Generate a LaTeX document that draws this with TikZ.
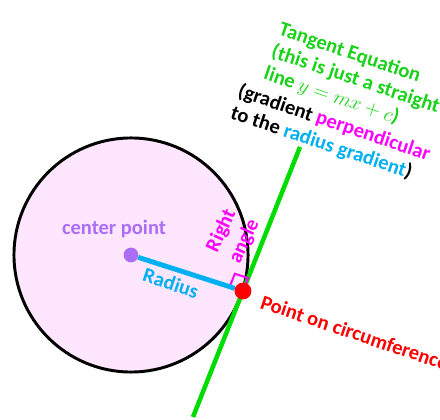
\documentclass[tikz,border=0pt]{standalone}
\usepackage{fontspec}
\setmainfont{Carlito}
\usepackage{tikz}
\usetikzlibrary{calc}

\definecolor{circfill}{RGB}{255,230,255}
\definecolor{ptpurple}{RGB}{170,110,245}
\definecolor{radblue}{RGB}{0,176,240}
\definecolor{tangreen}{RGB}{0,220,0}
\definecolor{txtgreen}{RGB}{25,210,25}
\definecolor{rmagenta}{RGB}{255,0,255}

\tikzset{
  lbl/.style={font=\bfseries\fontsize{14.6}{18}\selectfont, inner sep=0pt},
  eqline/.style={lbl, anchor=base west, rotate=-18.6},
  dot/.style={circle, inner sep=0pt}
}

\begin{document}
\begin{tikzpicture}[x=0.025cm, y=0.025cm]
    \useasboundingbox (0,0) rectangle (440,420);
    \clip (0,0) rectangle (440,420);

    % Circulo
    \filldraw[fill=circfill, draw=black, line width=2.1pt] (131,165) circle[radius=2.925cm];
    \coordinate (cc) at (131,165);
    \coordinate (pc) at (243,129);

    % Tangente
    \coordinate (tanlow) at (193,3);
    \coordinate (tantop) at (300,273);
    \draw[tangreen, line width=3.2pt] (tanlow) -- (tantop);

    % Angulo reto
    \coordinate (sqa) at ($(pc)!0.119!(cc)$);
    \coordinate (sqb) at ($(pc)!0.09!(tantop)$);
    \draw[rmagenta, line width=1.4pt] (pc) -- (sqa) -- ($(sqa)+(sqb)-(pc)$) -- (sqb) -- cycle;

    % Centro, ponto e raio
    \node[dot, fill=ptpurple, minimum size=10.5pt] (centro) at (cc) {};
    \node[dot, fill=red, minimum size=12pt] (ponto) at (pc) {};
    \draw[radblue, line width=3.5pt] (centro) -- (ponto);

    % Rotulos
    \node[lbl, ptpurple] (lblcentro) at (114,191) {center point};
    \node[lbl, radblue, rotate=-18.6] (lblraio) at (171,137) {Radius};
    \node[lbl, rmagenta, rotate=65, align=center] (lblangulo) at (233,184) {Right\\angle};
    \node[eqline, red] (lblponto) at (259,112) {Point on circumference};

    % Equacao da tangente
    \node[eqline, txtgreen] (eq1) at (277.5,385.2) {Tangent Equation};
    \node[eqline, txtgreen] (eq2) at (270.1,363.1) {(this is just a straight};
    \node[eqline, txtgreen] (eq3) at (262.7,341.1) {line $y = mx + c$)};
    \node[eqline] (eq4) at (236.6,323.5) {(gradient \textcolor{rmagenta}{perpendicular}};
    \node[eqline] (eq5) at (229.3,301.7) {to the \textcolor{radblue}{radius gradient})};
\end{tikzpicture}
\end{document}
